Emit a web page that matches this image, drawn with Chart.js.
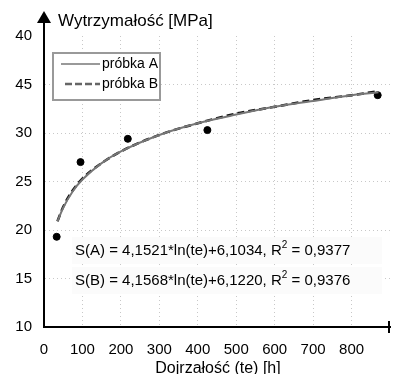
<!DOCTYPE html>
<html lang="pl">
<head>
    <meta charset="UTF-8">
    <title>Wytrzymałość a dojrzałość</title>
    <script src="https://cdn.jsdelivr.net/npm/chart.js"></script>
    <style>
        body {
            margin: 0;
            padding: 0;
            background-color: #fff;
        }
        #chart {
            display: block;
        }
    </style>
</head>
<body>
    <canvas id="chart" width="404" height="374"></canvas>

    <script>
        // measured points
        const testTimes = [33, 95, 218, 425, 868];
        const measuredStrength = [19.3, 27.0, 29.4, 30.3, 33.9];

        // fitted curves
        const fitTimes = [35, 50, 75, 100, 150, 200, 300, 400, 500, 600, 700, 800, 870];
        const fitA = [20.9, 22.3, 24.0, 25.2, 26.9, 28.1, 29.8, 31.0, 31.9, 32.7, 33.3, 33.9, 34.2];
        const fitB = [20.9, 22.4, 24.1, 25.3, 26.9, 28.1, 29.8, 31.0, 32.0, 32.7, 33.4, 33.9, 34.3];

        const yTickLabels = ['10', '15', '20', '25', '30', '45', '40'];
        const legendLabels = ['próbka A', 'próbka B'];
        const equationMain = ['S(A) = 4,1521*ln(te)+6,1034, R', 'S(B) = 4,1568*ln(te)+6,1220, R'];
        const equationTail = [' = 0,9377', ' = 0,9376'];

        const FONT = "'Liberation Sans', Arial, sans-serif";

        function toPoints(xs, ys) {
            return xs.map((x, i) => ({ x: x, y: ys[i] }));
        }

        const decorations = {
            id: 'decorations',
            beforeDatasetsDraw(chart) {
                const ctx = chart.ctx;
                ctx.save();
                // equation boxes
                ctx.textBaseline = 'middle';
                const rows = [251, 281];
                rows.forEach((y, i) => {
                    ctx.fillStyle = '#fbfbfb';
                    ctx.fillRect(72, y - 14, 310, 27);
                    ctx.fillStyle = '#000';
                    ctx.font = '15px ' + FONT;
                    ctx.fillText(equationMain[i], 75, y);
                    let w = ctx.measureText(equationMain[i]).width;
                    ctx.font = '10px ' + FONT;
                    ctx.fillText('2', 75 + w, y - 6);
                    let w2 = ctx.measureText('2').width;
                    ctx.font = '15px ' + FONT;
                    ctx.fillText(equationTail[i], 75 + w + w2, y);
                });
                ctx.restore();
            },
            afterDraw(chart) {
                const ctx = chart.ctx;
                const area = chart.chartArea;
                ctx.save();

                // y axis arrow
                ctx.strokeStyle = '#000';
                ctx.lineWidth = 2;
                ctx.beginPath();
                ctx.moveTo(area.left, area.top);
                ctx.lineTo(area.left, 22);
                ctx.stroke();
                ctx.fillStyle = '#000';
                ctx.beginPath();
                ctx.moveTo(area.left, 11);
                ctx.lineTo(area.left - 7, 23);
                ctx.lineTo(area.left + 7, 23);
                ctx.closePath();
                ctx.fill();

                // end bar of x axis
                ctx.beginPath();
                ctx.moveTo(area.right - 1, area.bottom - 6);
                ctx.lineTo(area.right - 1, area.bottom + 6);
                ctx.stroke();

                // axis titles
                ctx.textBaseline = 'middle';
                ctx.textAlign = 'left';
                ctx.font = '17px ' + FONT;
                ctx.fillText('Wytrzymałość [MPa]', 58, 21);
                ctx.textAlign = 'center';
                ctx.font = '16px ' + FONT;
                ctx.fillText('Dojrzałość (te) [h]', 218, 369);

                // legend
                ctx.fillStyle = '#fff';
                ctx.fillRect(53, 53, 107, 47);
                ctx.strokeStyle = '#999';
                ctx.lineWidth = 2;
                ctx.strokeRect(53, 53, 107, 47);

                ctx.strokeStyle = '#999';
                ctx.lineWidth = 2;
                ctx.beginPath();
                ctx.moveTo(61, 64);
                ctx.lineTo(100, 64);
                ctx.stroke();

                ctx.strokeStyle = '#666';
                ctx.lineWidth = 2.5;
                ctx.setLineDash([7, 3]);
                ctx.beginPath();
                ctx.moveTo(65, 84);
                ctx.lineTo(100, 84);
                ctx.stroke();
                ctx.setLineDash([]);

                ctx.fillStyle = '#000';
                ctx.font = '14px ' + FONT;
                ctx.textAlign = 'left';
                ctx.fillText(legendLabels[0], 102, 64);
                ctx.fillText(legendLabels[1], 102, 84);

                ctx.restore();
            }
        };

        new Chart(document.getElementById('chart'), {
            data: {
                datasets: [
                    {
                        type: 'line',
                        label: legendLabels[0],
                        data: toPoints(fitTimes, fitA),
                        borderColor: '#777',
                        borderWidth: 2,
                        pointRadius: 0,
                        cubicInterpolationMode: 'monotone'
                    },
                    {
                        type: 'line',
                        label: legendLabels[1],
                        data: toPoints(fitTimes, fitB),
                        borderColor: '#111',
                        borderWidth: 2.5,
                        borderDash: [7, 4],
                        pointRadius: 0,
                        cubicInterpolationMode: 'monotone'
                    },
                    {
                        type: 'scatter',
                        label: 'pomiary',
                        data: toPoints(testTimes, measuredStrength),
                        backgroundColor: '#000',
                        borderColor: '#000',
                        pointRadius: 3.5
                    }
                ]
            },
            options: {
                responsive: false,
                animation: false,
                devicePixelRatio: 1,
                layout: { padding: { top: 36, right: 2, left: 0, bottom: 0 } },
                plugins: {
                    legend: { display: false },
                    tooltip: { enabled: false }
                },
                scales: {
                    x: {
                        type: 'linear',
                        min: 0,
                        max: 900,
                        afterFit: (scale) => { scale.height = 47; },
                        ticks: {
                            stepSize: 100,
                            padding: 14,
                            color: '#000',
                            font: { family: FONT, size: 15 },
                            maxRotation: 0,
                            callback: (v) => v > 850 ? '' : v
                        },
                        grid: {
                            drawTicks: false,
                            color: (c) => (c.tick && c.tick.value > 0 && c.tick.value < 900) ? '#c8c8c8' : 'rgba(0,0,0,0)'
                        },
                        border: { color: '#000', width: 2, dash: [1, 3] }
                    },
                    y: {
                        min: 10,
                        max: 40,
                        afterFit: (scale) => { scale.width = 44; },
                        ticks: {
                            stepSize: 5,
                            padding: 12,
                            color: '#000',
                            font: { family: FONT, size: 15 },
                            callback: (v, i) => yTickLabels[i]
                        },
                        grid: {
                            drawTicks: false,
                            color: (c) => (c.tick && c.tick.value > 10 && c.tick.value < 40) ? '#c8c8c8' : 'rgba(0,0,0,0)'
                        },
                        border: { color: '#000', width: 2, dash: [1, 3] }
                    }
                }
            },
            plugins: [decorations]
        });
    </script>
</body>
</html>
